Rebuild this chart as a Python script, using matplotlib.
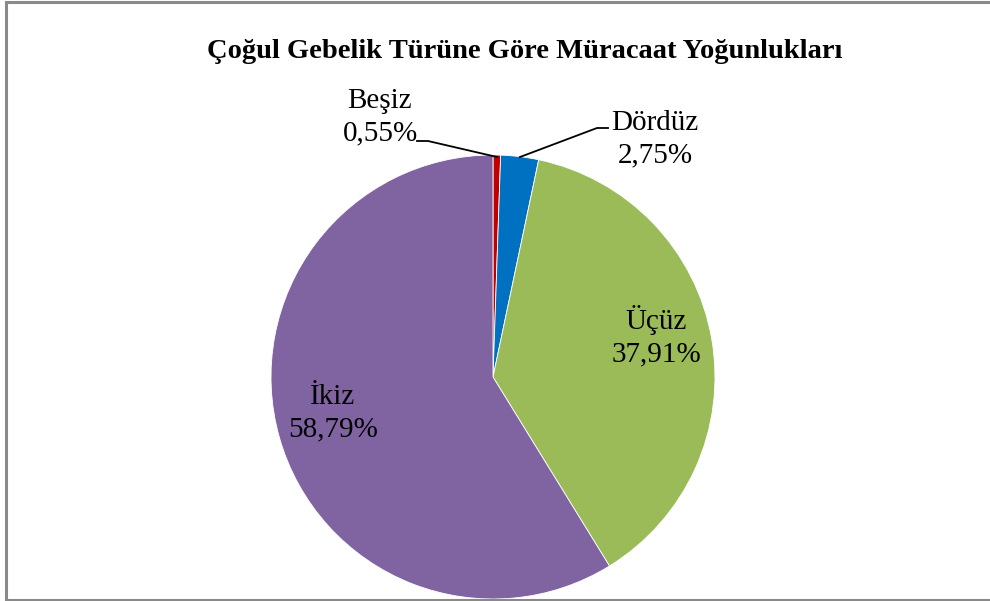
import matplotlib
matplotlib.use("Agg")
import matplotlib.pyplot as plt
from matplotlib.lines import Line2D

# Veriler
labels = ["Beşiz", "Dördüz", "Üçüz", "İkiz"]
values = [0.55, 2.75, 37.91, 58.79]
colors = ["#C00000", "#0070C0", "#9BBB59", "#8064A2"]
title = "Çoğul Gebelik Türüne Göre Müracaat Yoğunlukları"

W, H = 990, 601
fig = plt.figure(figsize=(W / 100, H / 100), dpi=100)
plt.rcParams['font.family'] = ['Liberation Serif', 'DejaVu Serif']

# pasta merkezi (493, 377), yarıçap 222 px
cx, cy, r = 493, 377, 222
ax = fig.add_axes([(cx - r) / W, (H - cy - r) / H, 2 * r / W, 2 * r / H])
ax.pie(values, colors=colors, startangle=90, counterclock=False, radius=1,
       wedgeprops=dict(edgecolor="white", linewidth=0.6))
ax.set_xlim(-1, 1)
ax.set_ylim(-1, 1)
ax.set_aspect("auto")
ax.axis("off")


def to_data(px, py):
    return (px - cx) / r, (cy - py) / r


fs = 21
label_pos = [(380, 117), (655, 139), (656, 336), (333, 413)]
for lab, val, (px, py) in zip(labels, values, label_pos):
    x, y = to_data(px, py)
    txt = f"{lab}\n{val:.2f}%".replace(".", ",")
    ax.text(x, y, txt, ha="center", va="center", fontsize=fs, color="black",
            linespacing=1.3, clip_on=False)

# kılavuz çizgileri
leaders = [
    [(417, 141), (428, 141), (497, 157)],
    [(520, 157), (597, 128), (608, 128)],
]
for pts in leaders:
    xs, ys = zip(*[to_data(*p) for p in pts])
    ax.plot(xs, ys, color="black", lw=1.3, clip_on=False)

fig.text(525 / W, 1 - 51 / H, title, ha="center", va="center",
         fontsize=20.5, fontweight="bold")

# çerçeve
frame = dict(color="#898989", lw=2.2)
fig.add_artist(Line2D([5.5 / W, 5.5 / W], [0.5 / H, 1 - 1.5 / H], **frame))
fig.add_artist(Line2D([5.5 / W, 1], [1 - 1.5 / H, 1 - 1.5 / H], **frame))
fig.add_artist(Line2D([5.5 / W, 1], [1.5 / H, 1.5 / H], **frame))

fig.savefig("out.png", dpi=100)
